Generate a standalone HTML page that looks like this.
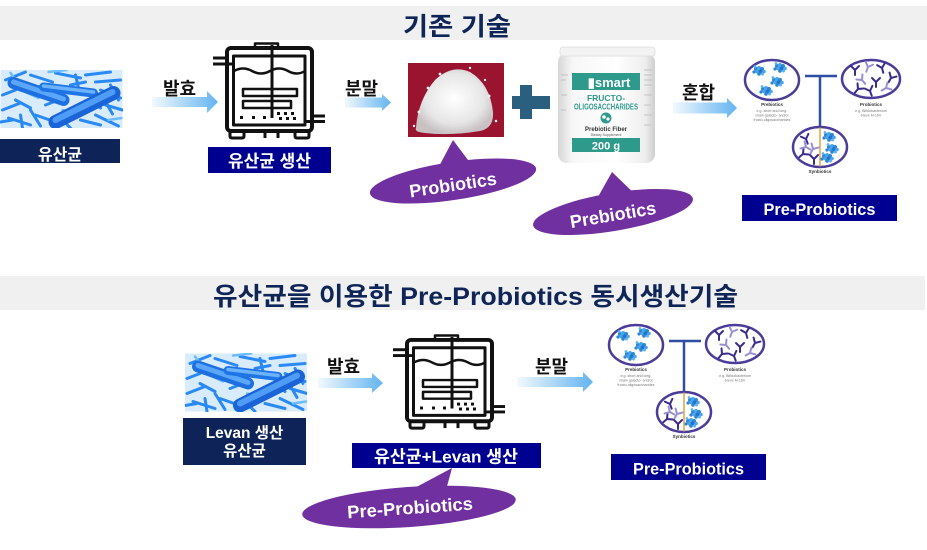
<!DOCTYPE html>
<html><head><meta charset="utf-8">
<style>
html,body{margin:0;padding:0;background:#fff;}
svg{display:block;}
text{font-family:"Liberation Sans","Noto Sans CJK KR",sans-serif;}
.k{font-family:"Liberation Sans","Noto Sans CJK KR",sans-serif;font-weight:bold;}
</style></head>
<body>
<svg width="927" height="550" viewBox="0 0 927 550" xmlns="http://www.w3.org/2000/svg">
<defs>
  <linearGradient id="ag" x1="0" y1="0" x2="1" y2="0">
    <stop offset="0" stop-color="#f2f9fe"/>
    <stop offset="1" stop-color="#63b4f1"/>
  </linearGradient>
  <radialGradient id="pile" cx="0.5" cy="0.45" r="0.55">
    <stop offset="0" stop-color="#ffffff"/>
    <stop offset="0.7" stop-color="#e6e6e6"/>
    <stop offset="1" stop-color="#c9c2c4"/>
  </radialGradient>
  <linearGradient id="jar" x1="0" y1="0" x2="1" y2="0">
    <stop offset="0" stop-color="#d6d6d6"/>
    <stop offset="0.15" stop-color="#f7f7f7"/>
    <stop offset="0.6" stop-color="#ffffff"/>
    <stop offset="0.9" stop-color="#eeeeee"/>
    <stop offset="1" stop-color="#cdcdcd"/>
  </linearGradient>

  <!-- bacteria image -->
  <symbol id="bac" viewBox="0 0 122 58">
    <rect width="122" height="58" fill="#d9ecfe"/>
    <g stroke-linecap="round" fill="none">
      <g stroke="#2a8af5" stroke-width="3">
        <line x1="5" y1="10" x2="25" y2="2"/><line x1="30" y1="5" x2="52" y2="12"/>
        <line x1="55" y1="3" x2="80" y2="8"/><line x1="85" y1="5" x2="110" y2="2"/>
        <line x1="95" y1="12" x2="120" y2="10"/><line x1="2" y1="25" x2="15" y2="20"/>
        <line x1="2" y1="40" x2="20" y2="33"/><line x1="8" y1="48" x2="30" y2="55"/>
        <line x1="20" y1="45" x2="22" y2="58"/><line x1="35" y1="45" x2="55" y2="52"/>
        <line x1="60" y1="48" x2="70" y2="58"/><line x1="75" y1="5" x2="78" y2="18"/>
        <line x1="100" y1="20" x2="120" y2="28"/><line x1="105" y1="35" x2="122" y2="40"/>
        <line x1="95" y1="45" x2="118" y2="56"/><line x1="80" y1="50" x2="100" y2="55"/>
        <line x1="15" y1="30" x2="30" y2="38"/><line x1="45" y1="35" x2="58" y2="30"/>
        <line x1="70" y1="15" x2="85" y2="12"/><line x1="110" y1="15" x2="118" y2="30"/>
        <line x1="0" y1="52" x2="12" y2="50"/><line x1="88" y1="30" x2="100" y2="38"/>
        <line x1="30" y1="40" x2="40" y2="56"/><line x1="112" y1="44" x2="104" y2="30"/>
      </g>
      <g stroke="#6cbcff" stroke-width="2.5">
        <line x1="10" y1="3" x2="18" y2="14"/><line x1="62" y1="40" x2="80" y2="44"/>
        <line x1="48" y1="2" x2="66" y2="0"/><line x1="25" y1="22" x2="38" y2="28"/>
        <line x1="108" y1="50" x2="121" y2="48"/>
      </g>
      <line x1="13" y1="13" x2="63" y2="30" stroke="#1e6fe0" stroke-width="12"/>
      <line x1="13" y1="12" x2="63" y2="29" stroke="#5aa6fb" stroke-width="5"/>
      <line x1="43" y1="17" x2="93" y2="23" stroke="#1f74e6" stroke-width="9"/>
      <line x1="43" y1="16" x2="93" y2="22" stroke="#6bb3ff" stroke-width="3.5"/>
      <line x1="55" y1="52" x2="113" y2="23" stroke="#1a64d8" stroke-width="14"/>
      <line x1="55" y1="50" x2="112" y2="22" stroke="#4e9cf5" stroke-width="6"/>
    </g>
  </symbol>

  <!-- fermenter icon -->
  <g id="ferm" fill="none" stroke="#111" stroke-linejoin="round">
    <rect x="42" y="0.5" width="23" height="4.5" stroke-width="2.5"/>
    <rect x="14" y="5" width="85" height="83" rx="4" stroke-width="4"/>
    <rect x="20.5" y="13" width="71.5" height="69" stroke-width="3"/>
    <line x1="0" y1="15" x2="14" y2="15" stroke-width="3"/>
    <line x1="0" y1="21" x2="21" y2="21" stroke-width="3"/>
    <line x1="99" y1="73" x2="112" y2="73" stroke-width="3"/>
    <line x1="92" y1="78.5" x2="112" y2="78.5" stroke-width="3"/>
    <path d="M21,28 q9,-5 18,0 t18,0 t18,0 t17,0" stroke-width="2.5"/>
    <line x1="59" y1="2" x2="59" y2="75" stroke-width="3"/>
    <rect x="30" y="46" width="54" height="7" stroke-width="2.5"/>
    <rect x="30" y="58" width="48" height="7" stroke-width="2.5"/>
    <g fill="#111" stroke="none">
      <rect x="27" y="73" width="3" height="3"/><rect x="39" y="73" width="3" height="3"/>
      <rect x="50" y="73" width="3" height="3"/><rect x="64" y="69" width="3" height="3"/>
      <rect x="71" y="69" width="3" height="3"/><rect x="78" y="69" width="3" height="3"/>
      <rect x="66" y="74" width="3" height="3"/><rect x="73" y="74" width="3" height="3"/>
      <rect x="80" y="74" width="3" height="3"/>
    </g>
    <path d="M17,88 v5 q0,2 2,2 h10 q2,0 2,-2 v-5" stroke-width="3"/>
    <path d="M82,88 v5 q0,2 2,2 h10 q2,0 2,-2 v-5" stroke-width="3"/>
    <line x1="52" y1="88" x2="52" y2="95" stroke-width="3"/>
    <line x1="65" y1="88" x2="65" y2="95" stroke-width="3"/>
  </g>

  <!-- cluster -->
  <g id="cl">
    <circle cx="0" cy="0" r="2" fill="#2b86d6"/><circle cx="3" cy="-1" r="2" fill="#4aa6ec"/>
    <circle cx="6" cy="0" r="2" fill="#2b86d6"/><circle cx="1.5" cy="2.5" r="2" fill="#4aa6ec"/>
    <circle cx="4.5" cy="2.5" r="2" fill="#2274c8"/><circle cx="8" cy="2.5" r="1.8" fill="#4aa6ec"/>
    <circle cx="-2" cy="3" r="1.6" fill="#2b86d6"/><circle cx="3" cy="5" r="1.8" fill="#2b86d6"/>
    <circle cx="6.5" cy="5" r="1.5" fill="#5bb4f2"/><circle cx="-1" cy="-2.5" r="1.4" fill="#5bb4f2"/>
  </g>
  <path id="yd" d="M0,0 L0,5 M0,0 L-4,-4 M0,0 L4,-4" stroke="#3b2b8c" stroke-width="2" fill="none" stroke-linecap="round"/>
  <path id="yl" d="M0,0 L0,5 M0,0 L-4,-4 M0,0 L4,-4" stroke="#9a8fd2" stroke-width="2" fill="none" stroke-linecap="round"/>

  <!-- synbiotics diagram -->
  <g id="syn">
    <line x1="65" y1="21" x2="97" y2="21" stroke="#2d4ea3" stroke-width="2.5"/>
    <line x1="80" y1="21" x2="80" y2="72" stroke="#2d4ea3" stroke-width="2.5"/>
    <ellipse cx="32" cy="25" rx="27" ry="20" fill="#fff" stroke="#4a3c98" stroke-width="2.5"/>
    <use href="#cl" x="16" y="14"/><use href="#cl" x="37" y="11"/>
    <use href="#cl" x="34" y="25"/><use href="#cl" x="23" y="34"/>
    <ellipse cx="131" cy="24" rx="29" ry="19" fill="#fff" stroke="#4a3c98" stroke-width="2.5"/>
    <use href="#yd" transform="translate(115,15)"/><use href="#yl" transform="translate(128,12) rotate(20)"/>
    <use href="#yd" transform="translate(142,13) rotate(-15)"/><use href="#yd" transform="translate(151,23) rotate(30)"/>
    <use href="#yl" transform="translate(122,25) rotate(-40)"/><use href="#yd" transform="translate(136,27)"/>
    <use href="#yl" transform="translate(146,33) rotate(60)"/><use href="#yd" transform="translate(118,34) rotate(40)"/>
    <use href="#yd" transform="translate(130,36) rotate(-20)"/>
    <ellipse cx="80" cy="92" rx="27" ry="20" fill="#fff" stroke="#4a3c98" stroke-width="2.5"/>
    <line x1="80" y1="72.5" x2="80" y2="111.5" stroke="#e3a33a" stroke-width="1.5"/>
    <use href="#yd" transform="translate(66,84) rotate(-20)"/><use href="#yl" transform="translate(73,94) rotate(30)"/>
    <use href="#yd" transform="translate(63,99) rotate(50)"/><use href="#yd" transform="translate(74,104)"/>
    <use href="#yl" transform="translate(66,92) rotate(-60)"/>
    <use href="#cl" x="86" y="80"/><use href="#cl" x="89" y="92"/><use href="#cl" x="84" y="101"/>
    <g text-anchor="middle" font-family="Liberation Sans, sans-serif">
      <text x="32" y="51" font-size="4.5" font-weight="bold" fill="#333">Prebiotics</text>
      <text x="32" y="57" font-size="3.6" fill="#777">e.g. short and long-</text>
      <text x="32" y="61.5" font-size="3.6" fill="#777">chain galacto- and/or</text>
      <text x="32" y="66" font-size="3.6" fill="#777">fructo-oligosaccharides</text>
      <text x="131" y="51" font-size="4.5" font-weight="bold" fill="#333">Probiotics</text>
      <text x="131" y="57" font-size="3.6" fill="#777">e.g. Bifidobacterium</text>
      <text x="131" y="61.5" font-size="3.6" fill="#777">breve M-16V</text>
      <text x="80" y="118" font-size="4.5" font-weight="bold" fill="#333">Synbiotics</text>
    </g>
  </g>
</defs>

<!-- ===== TOP SECTION ===== -->
<rect x="0" y="6" width="927" height="34" fill="#f0f0f0"/>
<text class="k" x="403" y="35" font-size="25" fill="#0f2557" textLength="108" lengthAdjust="spacingAndGlyphs">기존 기술</text>

<use href="#bac" x="0" y="70" width="123" height="58"/>
<rect x="0" y="139" width="120" height="24" fill="#0e2458"/>
<text class="k" x="60" y="160" font-size="16" fill="#fff" text-anchor="middle">유산균</text>

<text class="k" x="163" y="95" font-size="18" fill="#111">발효</text>
<path d="M152,97 L207,97 L207,91 L218,102 L207,113 L207,107 L152,107 Z" fill="url(#ag)"/>

<use href="#ferm" transform="translate(213,43)"/>
<rect x="208" y="147" width="123" height="26" fill="#000090"/>
<text class="k" x="269.5" y="167" font-size="17" fill="#fff" text-anchor="middle">유산균 생산</text>

<text class="k" x="345" y="95" font-size="18" fill="#111">분말</text>
<path d="M345,97.5 L382,97.5 L382,94 L391,102.5 L382,111 L382,107.5 L345,107.5 Z" fill="url(#ag)"/>

<!-- powder -->
<rect x="408" y="63" width="96" height="74" fill="#9a1430"/>
<path d="M416,128 Q418,100 435,80 Q452,64 470,72 Q490,84 493,112 Q494,128 480,131 Q450,136 425,133 Q414,132 416,128 Z" fill="url(#pile)"/>
<g fill="#f1eef0">
  <circle cx="419" cy="112" r="1.5"/><circle cx="428" cy="88" r="1.4"/><circle cx="489" cy="96" r="1.5"/>
  <circle cx="496" cy="121" r="1.3"/><circle cx="440" cy="74" r="1.4"/><circle cx="470" cy="68" r="1.2"/>
  <circle cx="414" cy="126" r="1.2"/><circle cx="485" cy="80" r="1.2"/>
</g>

<!-- plus -->
<rect x="512" y="96" width="38" height="13" fill="#2b5f80"/>
<rect x="520" y="85" width="12" height="34" fill="#2b5f80"/>

<!-- jar -->
<rect x="558" y="53" width="97" height="110" rx="9" fill="url(#jar)"/>
<rect x="560" y="47" width="95" height="9" rx="3" fill="#f3f3f3" stroke="#dcdcdc" stroke-width="0.8"/>
<g stroke="#bbb" stroke-width="0.8">
  <line x1="561" y1="75" x2="568" y2="75"/><line x1="561" y1="80" x2="566" y2="80"/>
  <line x1="561" y1="95" x2="567" y2="95"/><line x1="561" y1="110" x2="566" y2="110"/>
  <line x1="644" y1="70" x2="652" y2="70"/><line x1="644" y1="75" x2="652" y2="75"/>
  <line x1="644" y1="80" x2="652" y2="80"/><line x1="644" y1="85" x2="652" y2="85"/>
  <line x1="644" y1="95" x2="652" y2="95"/><line x1="644" y1="105" x2="651" y2="105"/>
  <line x1="644" y1="115" x2="652" y2="115"/><line x1="644" y1="125" x2="651" y2="125"/>
</g>
<rect x="572" y="73" width="68" height="17" fill="#2e9a8c"/>
<text x="609" y="87" font-size="13" font-weight="bold" fill="#fff" text-anchor="middle" font-family="Liberation Sans, sans-serif">▮smart</text>
<text x="606" y="101" font-size="8.5" font-weight="bold" fill="#2e9a8c" text-anchor="middle" font-family="Liberation Serif, serif">FRUCTO-</text>
<text x="606" y="109.5" font-size="8" font-weight="bold" fill="#2e9a8c" text-anchor="middle" font-family="Liberation Serif, serif" textLength="64" lengthAdjust="spacingAndGlyphs">OLIGOSACCHARIDES</text>
<circle cx="606" cy="118" r="5.5" fill="#2e9a8c"/>
<circle cx="604" cy="117" r="1.8" fill="#fff"/><circle cx="608" cy="119" r="1.6" fill="#fff"/>
<text x="606" y="131" font-size="6" font-weight="bold" fill="#333" text-anchor="middle" font-family="Liberation Sans, sans-serif">Prebiotic Fiber</text>
<text x="606" y="136" font-size="3.5" fill="#555" text-anchor="middle" font-family="Liberation Sans, sans-serif">Dietary Supplement</text>
<rect x="572" y="138" width="68" height="14" fill="#2e9a8c"/>
<text x="606" y="149.5" font-size="11" font-weight="bold" fill="#fff" text-anchor="middle" font-family="Liberation Sans, sans-serif">200 g</text>

<!-- callouts top -->
<g fill="#7030a0">
  <path d="M453,140 L436,172 L474,168 Z"/>
  <ellipse cx="453" cy="181" rx="84" ry="19" transform="rotate(-8.5 453 181)"/>
  <path d="M612,172 L594,204 L640,199 Z"/>
  <ellipse cx="613" cy="212" rx="81" ry="19" transform="rotate(-9.5 613 212)"/>
</g>
<text class="k" x="453" y="191" font-size="18" fill="#fff" text-anchor="middle" transform="rotate(-8.5 453 185)">Probiotics</text>
<text class="k" x="613" y="221" font-size="18" fill="#fff" text-anchor="middle" transform="rotate(-9.5 613 215)">Prebiotics</text>

<text class="k" x="682" y="99" font-size="18" fill="#111">혼합</text>
<path d="M673,102.5 L727,102.5 L727,98 L737,108 L727,118 L727,113.5 L673,113.5 Z" fill="url(#ag)"/>

<use href="#syn" transform="translate(740,55)"/>
<rect x="742" y="195" width="155" height="26" fill="#000090"/>
<text class="k" x="819.5" y="215" font-size="17" fill="#fff" text-anchor="middle" textLength="112" lengthAdjust="spacingAndGlyphs">Pre-Probiotics</text>

<!-- ===== BOTTOM SECTION ===== -->
<rect x="0" y="276" width="925" height="34" fill="#f0f0f0"/>
<text class="k" x="213" y="305" font-size="25" fill="#0f2557" textLength="525" lengthAdjust="spacingAndGlyphs">유산균을 이용한 Pre-Probiotics  동시생산기술</text>

<use href="#bac" x="185" y="353" width="122" height="59"/>
<rect x="183" y="418" width="123" height="47" fill="#0e2458"/>
<text class="k" x="244.5" y="438" font-size="15.5" fill="#fff" text-anchor="middle">Levan 생산</text>
<text class="k" x="244.5" y="456" font-size="15.5" fill="#fff" text-anchor="middle">유산균</text>

<text class="k" x="327" y="373" font-size="18" fill="#111">발효</text>
<path d="M318,378 L372,378 L372,373 L383,383 L372,393 L372,388 L318,388 Z" fill="url(#ag)"/>

<use href="#ferm" transform="translate(393,335) scale(1,0.98)"/>
<rect x="352" y="443" width="189" height="25" fill="#000090"/>
<text class="k" x="446" y="462.5" font-size="17" fill="#fff" text-anchor="middle" textLength="144" lengthAdjust="spacingAndGlyphs">유산균+Levan 생산</text>

<g fill="#7030a0">
  <path d="M452,468 L409,491 L446,490 Z"/>
  <ellipse cx="409" cy="507" rx="107" ry="20" transform="rotate(-4 409 507)"/>
</g>
<text class="k" x="410" y="514" font-size="18" fill="#fff" text-anchor="middle" transform="rotate(-4 410 508)" textLength="126" lengthAdjust="spacingAndGlyphs">Pre-Probiotics</text>

<text class="k" x="535" y="373" font-size="18" fill="#111">분말</text>
<path d="M517,377 L583,377 L583,372 L593,382 L583,392 L583,387 L517,387 Z" fill="url(#ag)"/>

<use href="#syn" transform="translate(604,320)"/>
<rect x="611" y="454" width="155" height="26" fill="#000090"/>
<text class="k" x="688.5" y="474.5" font-size="17" fill="#fff" text-anchor="middle" textLength="111" lengthAdjust="spacingAndGlyphs">Pre-Probiotics</text>
</svg>
</body></html>
